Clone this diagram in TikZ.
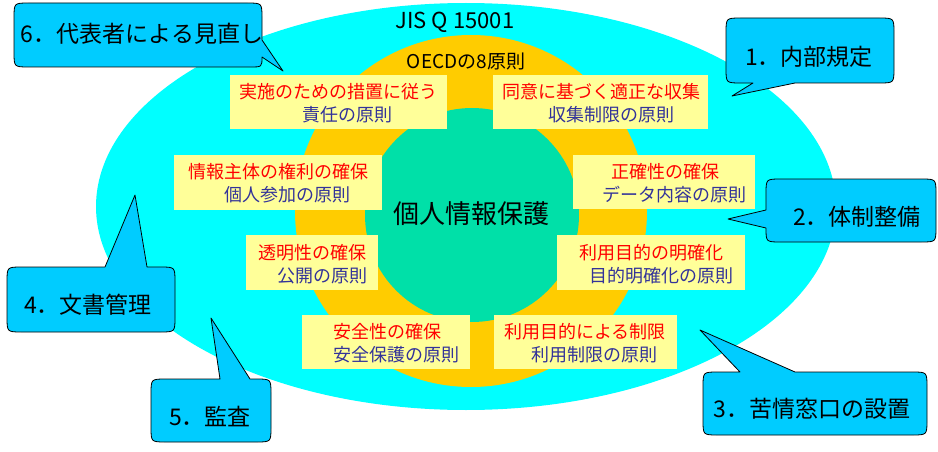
\documentclass[tikz,border=0pt]{standalone}
\usepackage{fontspec}
\setmainfont{Noto Sans CJK JP}
\definecolor{cyanbg}{HTML}{00FFFF}
\definecolor{orangebg}{HTML}{FFCC00}
\definecolor{greenbg}{HTML}{00E0A8}
\definecolor{boxyellow}{HTML}{FFFF99}
\definecolor{navytext}{HTML}{333399}
\definecolor{calloutblue}{HTML}{00CCFF}
\begin{document}
\begin{tikzpicture}[x=1pt,y=-1pt,
  ybox/.style={fill=boxyellow, inner sep=0pt},
  redline/.style={text=red, font=\fontsize{18}{20}\selectfont, inner sep=0pt},
  blueline/.style={text=navytext, font=\fontsize{18}{20}\selectfont, inner sep=0pt},
  co/.style={draw=black, fill=calloutblue, line width=0.8pt, line join=round},
  cotext/.style={font=\fontsize{23}{25}\selectfont, inner sep=0pt},
  title/.style={inner sep=0pt}
]
\useasboundingbox (0,0) rectangle (938,452);
\fill[white] (0,0) rectangle (938,452);
% background ellipses
\fill[cyanbg] (466,206.5) ellipse [x radius=370, y radius=203.5];
\fill[orangebg] (471,211) ellipse [x radius=176, y radius=176];
\fill[greenbg] (472,215) ellipse [x radius=107, y radius=107];
% titles
\node[title, font=\fontsize{22}{24}\selectfont] (jis) at (455,22) {JIS Q 15001};
\node[title, font=\fontsize{19}{21}\selectfont] (oecd) at (466,61) {OECDの8原則};
\node[title, font=\fontsize{26}{28}\selectfont] (core) at (471,214) {個人情報保護};
% yellow boxes
\node[ybox, minimum width=217pt, minimum height=54pt] (b1) at (338.5,102) {};
\node[ybox, minimum width=215pt, minimum height=54pt] (b2) at (600.5,102) {};
\node[ybox, minimum width=208pt, minimum height=55pt] (b3) at (278,182.5) {};
\node[ybox, minimum width=132pt, minimum height=55pt] (b4) at (312,262.5) {};
\node[ybox, minimum width=182pt, minimum height=54pt] (b5) at (664,182) {};
\node[ybox, minimum width=188pt, minimum height=55pt] (b6) at (651,262.5) {};
\node[ybox, minimum width=168pt, minimum height=54pt] (b7) at (386,342) {};
\node[ybox, minimum width=183pt, minimum height=54pt] (b8) at (585.5,342) {};
% box texts
\node[redline] (r1) at (338,92) {実施のための措置に従う};
\node[blueline] (p1) at (347,115) {責任の原則};
\node[redline] (r2) at (601,92) {同意に基づく適正な収集};
\node[blueline] (p2) at (611,115) {収集制限の原則};
\node[redline] (r3) at (278,172) {情報主体の権利の確保};
\node[blueline] (p3) at (287,195) {個人参加の原則};
\node[redline] (r4) at (312,253) {透明性の確保};
\node[blueline] (p4) at (322,276) {公開の原則};
\node[redline] (r5) at (665,172) {正確性の確保};
\node[blueline] (p5) at (674,195) {データ内容の原則};
\node[redline] (r6) at (651,253) {利用目的の明確化};
\node[blueline] (p6) at (661,276) {目的明確化の原則};
\node[redline] (r7) at (387,332) {安全性の確保};
\node[blueline] (p7) at (396,355) {安全保護の原則};
\node[redline] (r8) at (585,332) {利用目的による制限};
\node[blueline] (p8) at (594,355) {利用制限の原則};
% callouts
% 6
\draw[co] (29,3) -- (247,3) .. controls (262,3) .. (262,18) -- (262,40) -- (283,71) -- (262,57)
  .. controls (262,67) .. (250,67) -- (29,67) .. controls (14,67) .. (14,52) -- (14,18)
  .. controls (14,3) .. (29,3) -- cycle;
\node[cotext] (c6) at (142,34) {6．代表者による見直し};
% 1
\draw[co] (741,18) -- (879,18) .. controls (894,18) .. (894,33) -- (894,68) .. controls (894,83) .. (879,83)
  -- (795,83) -- (732,96) -- (753,83) -- (741,83) .. controls (726,83) .. (726,68) -- (726,33)
  .. controls (726,18) .. (741,18) -- cycle;
\node[cotext] (c1) at (809,57) {1．内部規定};
% 2
\draw[co] (781,179) -- (921,179) .. controls (936,179) .. (936,194) -- (936,227) .. controls (936,242) .. (921,242)
  -- (781,242) .. controls (766,242) .. (766,228) -- (728,219) -- (766,210) -- (766,194)
  .. controls (766,179) .. (781,179) -- cycle;
\node[cotext] (c2) at (857,217) {2．体制整備};
% 3
\draw[co] (718,372) -- (740,372) -- (700,330) -- (795,372) -- (912,372) .. controls (927,372) .. (927,387)
  -- (927,420) .. controls (927,435) .. (912,435) -- (718,435) .. controls (703,435) .. (703,420)
  -- (703,387) .. controls (703,372) .. (718,372) -- cycle;
\node[cotext] (c3) at (812,409) {3．苦情窓口の設置};
% 4
\draw[co] (22,267) -- (105,267) -- (135,195) -- (147,267) -- (160,267) .. controls (175,267) .. (175,282)
  -- (175,317) .. controls (175,332) .. (160,332) -- (22,332) .. controls (7,332) .. (7,317)
  -- (7,282) .. controls (7,267) .. (22,267) -- cycle;
\node[cotext] (c4) at (88,305) {4．文書管理};
% 5
\draw[co] (166,379) -- (220,379) -- (211,318) -- (250,379) -- (256,379) .. controls (271,379) .. (271,394)
  -- (271,427) .. controls (271,442) .. (256,442) -- (166,442) .. controls (151,442) .. (151,427)
  -- (151,394) .. controls (151,379) .. (166,379) -- cycle;
\node[cotext] (c5) at (210,417) {5．監査};
\end{tikzpicture}
\end{document}
